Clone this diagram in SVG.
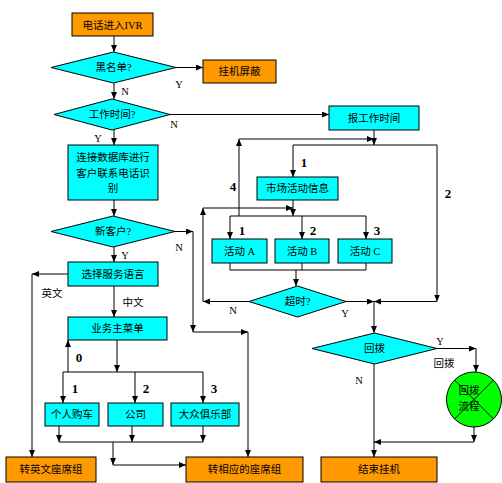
<svg xmlns="http://www.w3.org/2000/svg" width="502" height="483" viewBox="0 0 502 483">
<defs>
<marker id="ar" markerUnits="userSpaceOnUse" markerWidth="8" markerHeight="8" refX="7" refY="3" orient="auto">
<path d="M0,0 L7,3 L0,6 z" fill="#000"/>
</marker>
<style>
.o{fill:#FF9900;stroke:#000;stroke-width:1}
.c{fill:#00FFFF;stroke:#000;stroke-width:1}
.g{fill:#00FF00;stroke:#000;stroke-width:1}
.t{font-family:"Liberation Serif","Noto Sans CJK SC",serif;font-size:10.5px;fill:#000;text-anchor:middle}
.n{font-family:"Liberation Serif",serif;font-size:13px;font-weight:bold;fill:#000;text-anchor:middle}
.l{font-family:"Liberation Serif","Noto Sans CJK SC",serif;font-size:10.5px;fill:#000;text-anchor:middle}
#conn path,#conn line{fill:none;stroke:#000;stroke-width:1}
#conn .a{marker-end:url(#ar)}
</style>
</defs>
<rect width="502" height="483" fill="#fff"/>
<g id="conn">
<path class="a" d="M114,36V52"/>
<path class="a" d="M176,67.5H203"/>
<path class="a" d="M114,83V99"/>
<path class="a" d="M170,114.5H329"/>
<path class="a" d="M114,130V145"/>
<path class="a" d="M114,200V216"/>
<path class="a" d="M175,231.5H193"/>
<path class="a" d="M193,231.5V332"/>
<path class="a" d="M193,332H248"/>
<path class="a" d="M248,332V457"/>
<path class="a" d="M114,247V262"/>
<path class="a" d="M68,274H32"/>
<path class="a" d="M32,274V457"/>
<path class="a" d="M114,286V317"/>
<path class="a" d="M117,340V372"/>
<path d="M63,372H203"/>
<path class="a" d="M63,372V403"/>
<path class="a" d="M135,372V403"/>
<path class="a" d="M203,372V403"/>
<path class="a" d="M68,372V340"/>
<path class="a" d="M59,426V442"/>
<path class="a" d="M132,426V442"/>
<path class="a" d="M203,426V442"/>
<path d="M59,442H203"/>
<path class="a" d="M113,442V465"/>
<path class="a" d="M113,465H186"/>
<path class="a" d="M374,130V145"/>
<path d="M293,145H437"/>
<path class="a" d="M293,145V177"/>
<path class="a" d="M437,145V301.5"/>
<path class="a" d="M239,216V139"/>
<path class="a" d="M239,139H374"/>
<path class="a" d="M293,200V216"/>
<path d="M230,216H366"/>
<path class="a" d="M230,216V239"/>
<path class="a" d="M302,216V239"/>
<path class="a" d="M366,216V239"/>
<path d="M230,263V270M302,263V270M366,263V270M230,270H366"/>
<path class="a" d="M296,270V286"/>
<path class="a" d="M249,301.5H203"/>
<path class="a" d="M203,301.5V208"/>
<path class="a" d="M203,208H293"/>
<path class="a" d="M346,301.5H374"/>
<path class="a" d="M437,301.5H374"/>
<path class="a" d="M374,301.5V333"/>
<path class="a" d="M437,348.5H476"/>
<path class="a" d="M476,348.5V372"/>
<path class="a" d="M474,427V442"/>
<path class="a" d="M474,442H374"/>
<path class="a" d="M374,364V457"/>
</g>
<g id="n-start"><rect class="o" x="72" y="13" width="81" height="23"/><text class="t" x="112.5" y="28.5">电话进入IVR</text></g>
<g id="n-black"><polygon class="c" points="113.5,52 176,67.5 113.5,83 51,67.5"/><text class="t" x="113.5" y="71">黑名单?</text></g>
<g id="n-hang"><rect class="o" x="203" y="60" width="73" height="23"/><text class="t" x="239.5" y="75">挂机屏蔽</text></g>
<g id="n-work"><polygon class="c" points="112,99 170,114.5 112,130 54,114.5"/><text class="t" x="112" y="118">工作时间?</text></g>
<g id="n-report"><rect class="c" x="329" y="106" width="90" height="24"/><text class="t" x="374" y="121.5">报工作时间</text></g>
<g id="n-db"><rect class="c" x="68" y="145" width="90" height="55"/><text class="t" x="113" y="161">连接数据库进行</text><text class="t" x="113" y="177">客户联系电话识</text><text class="t" x="113" y="192">别</text></g>
<g id="n-new"><polygon class="c" points="113,216 175,231.5 113,247 51,231.5"/><text class="t" x="113" y="235">新客户?</text></g>
<g id="n-lang"><rect class="c" x="68" y="262" width="90" height="24"/><text class="t" x="113" y="277.5">选择服务语言</text></g>
<g id="n-menu"><rect class="c" x="68" y="317" width="99" height="23"/><text class="t" x="117.5" y="332">业务主菜单</text></g>
<g id="n-p1"><rect class="c" x="45" y="403" width="54" height="23"/><text class="t" x="72" y="418">个人购车</text></g>
<g id="n-p2"><rect class="c" x="108" y="403" width="55" height="23"/><text class="t" x="135.5" y="418">公司</text></g>
<g id="n-p3"><rect class="c" x="171" y="403" width="68" height="23"/><text class="t" x="205" y="418">大众俱乐部</text></g>
<g id="n-en"><rect class="o" x="6" y="457" width="90" height="25"/><text class="t" x="51" y="473">转英文座席组</text></g>
<g id="n-seat"><rect class="o" x="186" y="457" width="117" height="25"/><text class="t" x="244.5" y="473">转相应的座席组</text></g>
<g id="n-mkt"><rect class="c" x="257" y="177" width="81" height="23"/><text class="t" x="297.5" y="192">市场活动信息</text></g>
<g id="n-a"><rect class="c" x="212" y="239" width="55" height="24"/><text class="t" x="239.5" y="254.5">活动 A</text></g>
<g id="n-b"><rect class="c" x="275" y="239" width="54" height="24"/><text class="t" x="302" y="254.5">活动 B</text></g>
<g id="n-c"><rect class="c" x="338" y="239" width="54" height="24"/><text class="t" x="365" y="254.5">活动 C</text></g>
<g id="n-timeout"><polygon class="c" points="297.5,286 346,301.5 297.5,317 249,301.5"/><text class="t" x="297.5" y="305">超时?</text></g>
<g id="n-cb"><polygon class="c" points="374.5,333 437,348.5 374.5,364 312,348.5"/><text class="t" x="374.5" y="352">回拨</text></g>
<g id="n-cbflow"><circle class="g" cx="474" cy="399.5" r="27.5"/><path d="M454.5,380L493.5,419M493.5,380L454.5,419" stroke="#000" stroke-width="1" fill="none"/><text class="t" x="469" y="394">回拨</text><text class="t" x="469" y="410">流程</text></g>
<g id="n-end"><rect class="o" x="321" y="457" width="116" height="25"/><text class="t" x="379" y="473">结束挂机</text></g>
<g id="labels">
<text class="l" x="179" y="88">Y</text>
<text class="l" x="125" y="95">N</text>
<text class="l" x="174" y="128">N</text>
<text class="l" x="98" y="142">Y</text>
<text class="l" x="179" y="251">N</text>
<text class="l" x="125" y="259">Y</text>
<text class="l" x="52" y="297">英文</text>
<text class="l" x="133" y="306">中文</text>
<text class="n" x="79" y="362">0</text>
<text class="n" x="75" y="393">1</text>
<text class="n" x="146" y="393">2</text>
<text class="n" x="214" y="393">3</text>
<text class="n" x="233" y="191">4</text>
<text class="n" x="304" y="167">1</text>
<text class="n" x="448" y="198">2</text>
<text class="n" x="242" y="235">1</text>
<text class="n" x="313" y="235">2</text>
<text class="n" x="377" y="235">3</text>
<text class="l" x="233" y="314">N</text>
<text class="l" x="345" y="317">Y</text>
<text class="l" x="440" y="345">Y</text>
<text class="l" x="444" y="367">回拨</text>
<text class="l" x="359" y="384">N</text>
</g>
</svg>
